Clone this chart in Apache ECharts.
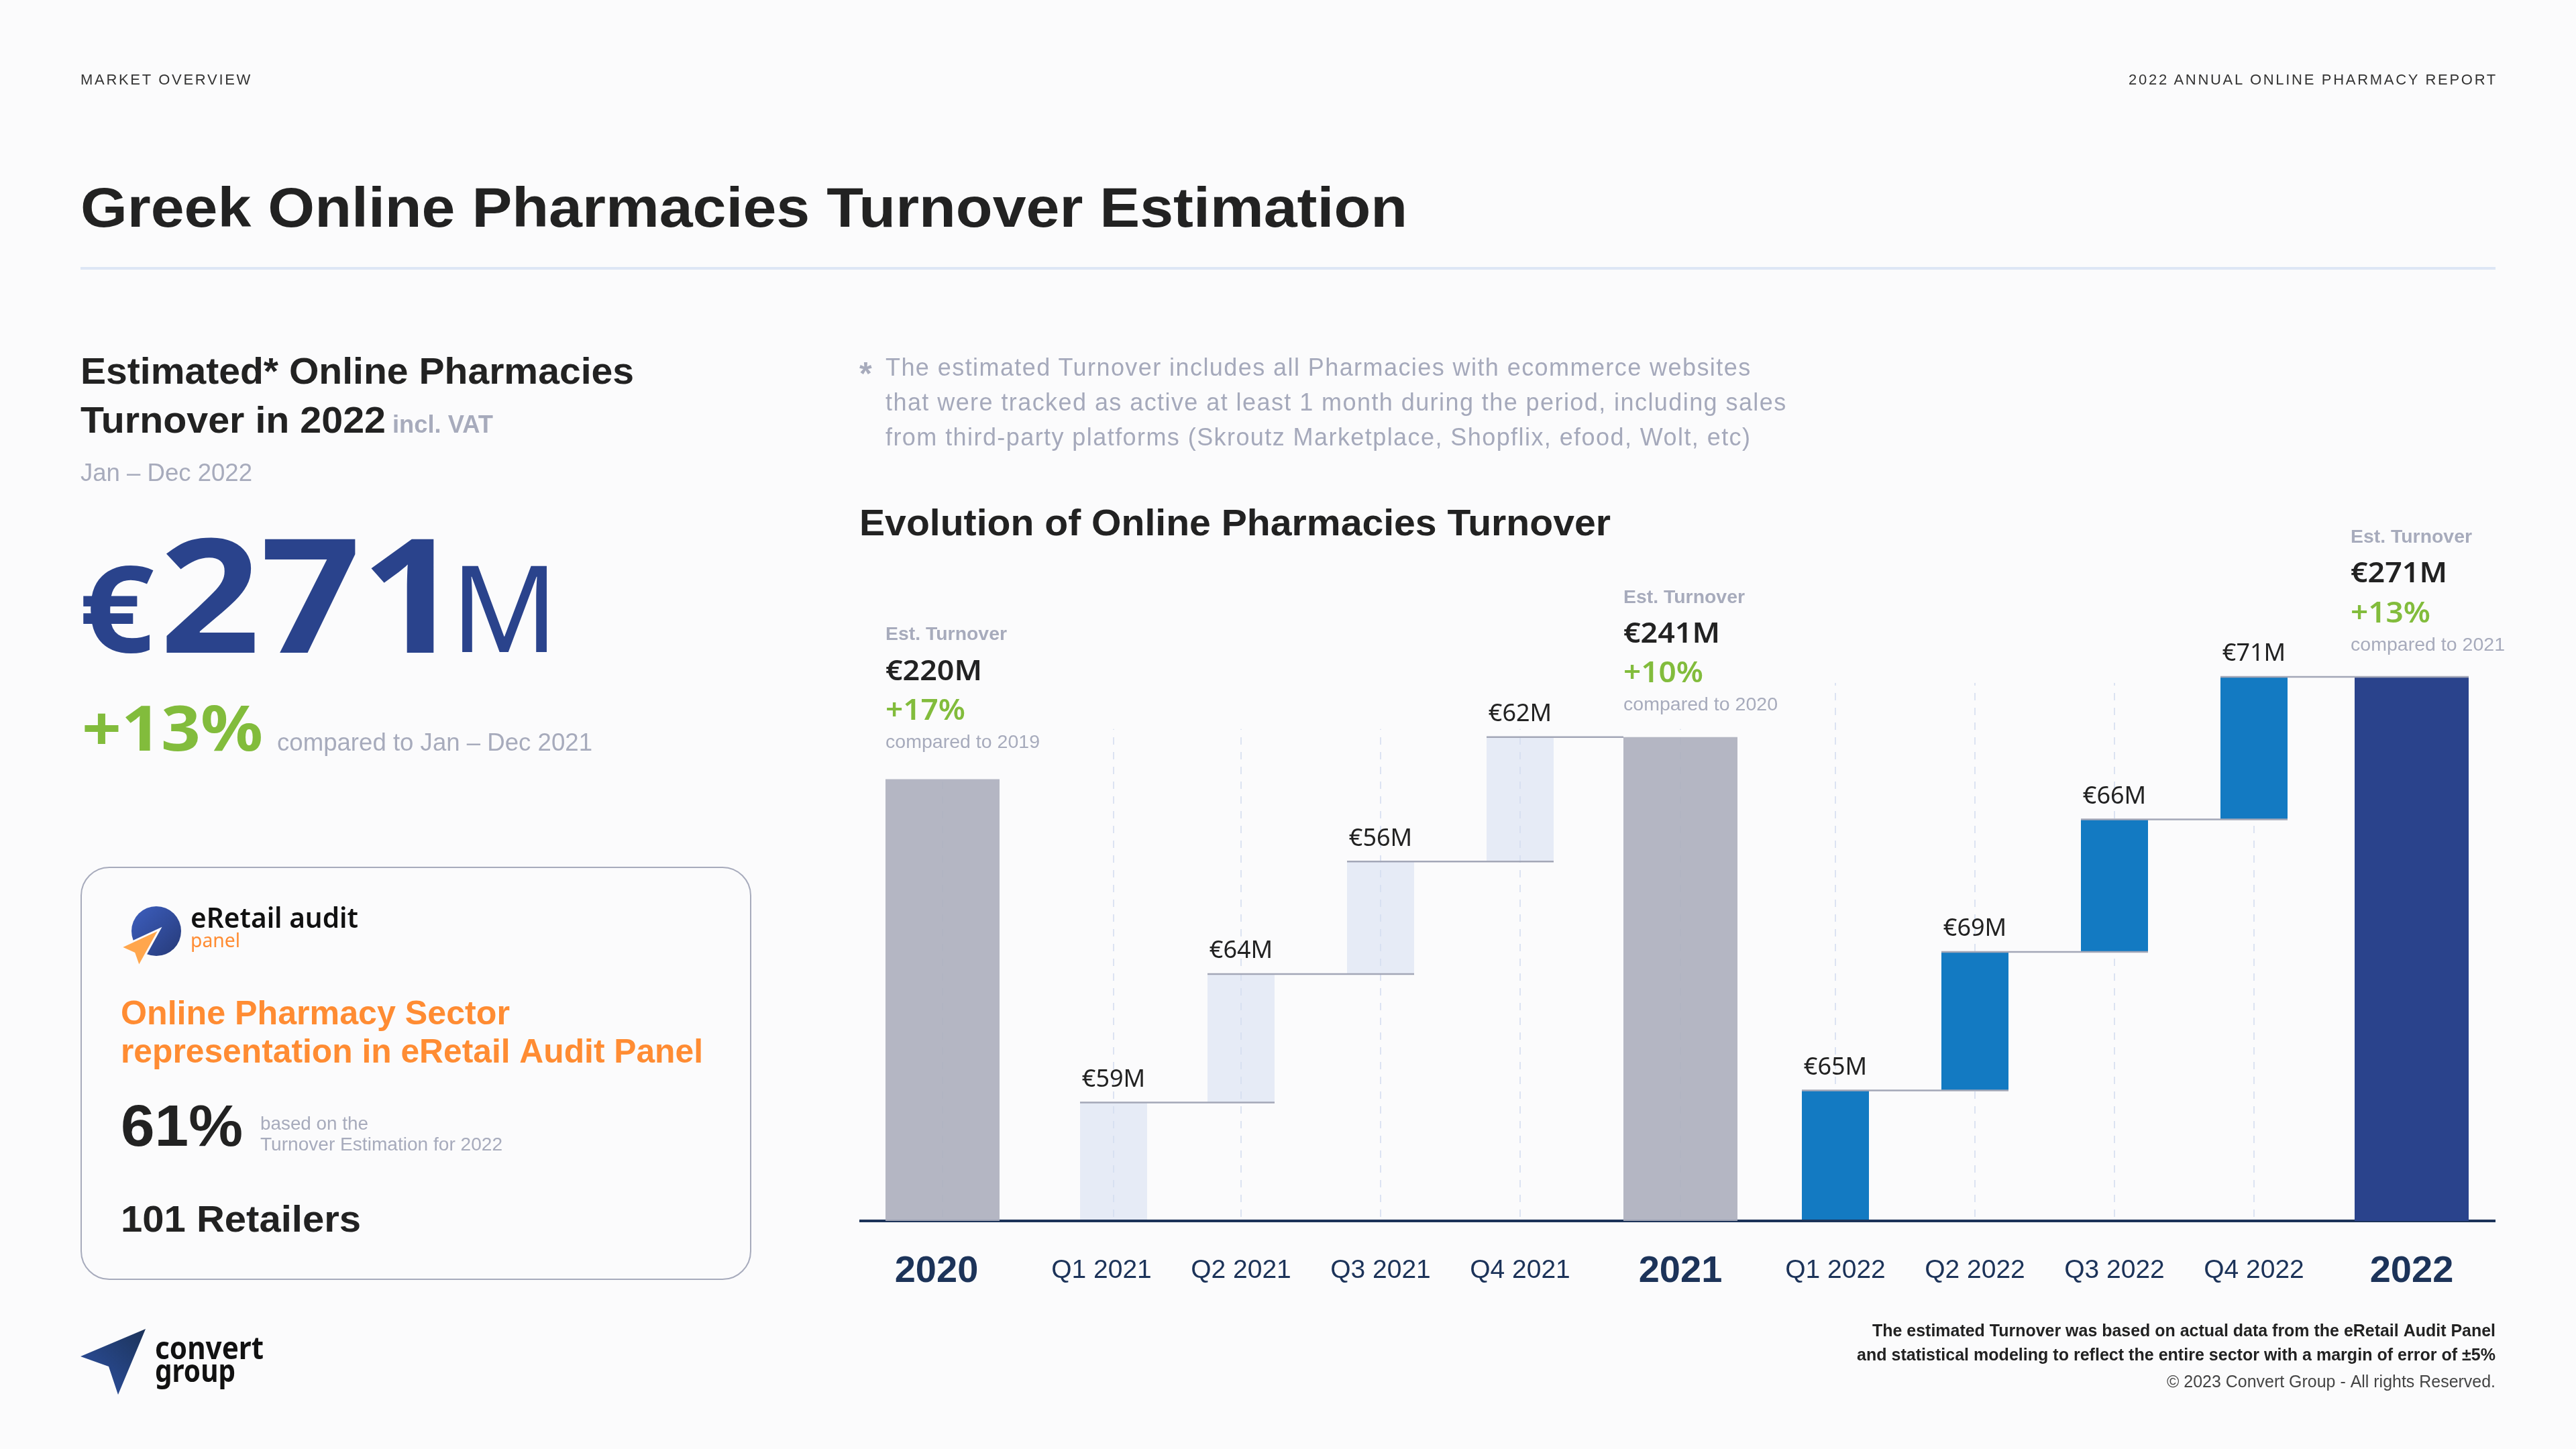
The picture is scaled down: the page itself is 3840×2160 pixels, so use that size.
<!DOCTYPE html>
<html>
<head>
<meta charset="utf-8">
<title>Greek Online Pharmacies Turnover Estimation</title>
<script src="https://cdn.jsdelivr.net/npm/echarts@6/dist/echarts.min.js"></script>
<style>
  html, body { margin: 0; background: #fbfbfc; }
  #main { position: absolute; left: 0; top: 0; width: 3840px; height: 2160px; }
  .tracked { position: absolute; font-family: "Liberation Sans"; white-space: nowrap; }
  #head-left, #head-right { top: 106px; font-size: 22px; line-height: 26px; letter-spacing: 2.7px; color: #333; }
  #head-left { left: 120px; }
  #head-right { right: 117px; }
  .note { left: 1320px; font-size: 36px; line-height: 42px; letter-spacing: 1.43px; color: #a5a9bb; }
</style>
</head>
<body>
<div id="main"></div>
<div class="tracked" id="head-left">MARKET OVERVIEW</div>
<div class="tracked" id="head-right">2022 ANNUAL ONLINE PHARMACY REPORT</div>
<div class="tracked note" style="top:527px">The estimated Turnover includes all Pharmacies with ecommerce websites</div>
<div class="tracked note" style="top:579px">that were tracked as active at least 1 month during the period, including sales</div>
<div class="tracked note" style="top:631px">from third-party platforms (Skroutz Marketplace, Shopflix, efood, Wolt, etc)</div>
<script>
// values
const yearLabels = ['2020', '2021', '2022'];
const yearValues = [220, 241, 271];
const yearGrowth = ['+17%', '+10%', '+13%'];
const yearCompared = ['compared to 2019', 'compared to 2020', 'compared to 2021'];
const q21Labels = ['Q1 2021', 'Q2 2021', 'Q3 2021', 'Q4 2021'];
const q21Values = [59, 64, 56, 62];
const q22Labels = ['Q1 2022', 'Q2 2022', 'Q3 2022', 'Q4 2022'];
const q22Values = [65, 69, 66, 71];

const LS = '"Liberation Sans"';
const NS = '"Noto Sans"';
const DARK = '#222222';
const GREY = '#a7abbc';
const GREEN = '#82bc3c';
const ORANGE = '#ff8c33';
const NAVY = '#2a438c';
const AXIS = '#1c3359';

const chart = echarts.init(document.getElementById('main'));

// running total under each quarter, the waterfall's invisible part
function running(vals) {
    let sum = 0;
    return vals.map(function (v) { const b = sum; sum += v; return b; });
}
const q21Base = running(q21Values);
const q22Base = running(q22Values);

// the slide spaces its bars unevenly, so every run of bars gets its own grid
const groups = [
    { left: 1281, right: 1529, cats: yearLabels.slice(0, 1), vals: yearValues.slice(0, 1), base: [0], kind: 'year', color: 'rgba(172,174,188,0.9)', dashTop: 220, labelPad: 18 },
    { left: 1529, right: 1791, cats: q21Labels.slice(0, 1), vals: q21Values.slice(0, 1), base: q21Base.slice(0, 1), kind: 'q', color: 'rgba(214,222,240,0.55)', dashTop: 245, labelPad: 36 },
    { left: 1746, right: 2370, cats: q21Labels.slice(1), vals: q21Values.slice(1), base: q21Base.slice(1), kind: 'q', color: 'rgba(214,222,240,0.55)', dashTop: 245, labelPad: 0 },
    { left: 2370, right: 2640, cats: yearLabels.slice(1, 2), vals: yearValues.slice(1, 2), base: [0], kind: 'year', color: 'rgba(172,174,188,0.9)', dashTop: 245, labelPad: 0 },
    { left: 2632, right: 3464, cats: q22Labels, vals: q22Values, base: q22Base, kind: 'q', color: '#137ac2', dashTop: 268, labelPad: 0 },
    { left: 3470, right: 3720, cats: yearLabels.slice(2), vals: yearValues.slice(2), base: [0], kind: 'year', color: NAVY, dashTop: 0, labelPad: 0 }
];

const grids = [], xAxes = [], yAxes = [], series = [];
groups.forEach(function (g, i) {
    const isYear = g.kind === 'year';
    const barZ = isYear ? 3 : 2;
    grids.push({ left: g.left, width: g.right - g.left, top: 1000, height: 820 });
    xAxes.push({
        type: 'category', gridIndex: i, data: g.cats,
        axisLine: { show: false },
        axisTick: { show: false },
        axisLabel: {
            interval: 0, color: AXIS, fontFamily: LS,
            fontSize: isYear ? 56 : 39, fontWeight: isYear ? 'bold' : 'normal',
            margin: isYear ? 48 : 55, padding: [0, g.labelPad, 0, 0]
        }
    });
    yAxes.push({ type: 'value', gridIndex: i, min: 0, max: 274, show: false });
    series.push({
        type: 'bar', xAxisIndex: i, yAxisIndex: i, stack: 's' + i, z: barZ, silent: true,
        barWidth: isYear ? 170 : 100, itemStyle: { color: 'transparent' }, data: g.base,
        markLine: g.dashTop ? {
            silent: true, symbol: 'none', z: 1, label: { show: false },
            lineStyle: { type: [11, 11], color: '#dce3f2', width: 2 },
            data: g.cats.map(function (c) { return [{ xAxis: c, yAxis: 2 }, { xAxis: c, yAxis: g.dashTop }]; })
        } : undefined
    });
    series.push({
        type: 'bar', xAxisIndex: i, yAxisIndex: i, stack: 's' + i, z: barZ, silent: true,
        barWidth: isYear ? 170 : 100, itemStyle: { color: g.color }, data: g.vals,
        label: {
            show: !isYear, position: 'top', distance: 16, color: DARK, fontFamily: NS, fontSize: 36,
            formatter: function (p) { return '€' + p.value + 'M'; }
        }
    });
});

chart.setOption({
    animation: false,
    backgroundColor: '#fbfbfc',
    grid: grids, xAxis: xAxes, yAxis: yAxes, series: series
});

// text placed by its baseline; w stretches it to the tracked width on the slide
const measure = document.createElement('canvas').getContext('2d');
function txt(str, x, y, size, color, o) {
    o = o || {};
    const family = o.family || LS;
    const font = (o.weight || 'normal') + ' ' + size + 'px ' + family;
    measure.font = font;
    const mid = (family === NS ? 0.268 : 0.26) * size;
    return {
        type: 'text', x: x, y: y - mid, z: 20, silent: true,
        scaleX: o.w ? o.w / measure.measureText(str).width : 1,
        style: { x: 0, y: 0, text: str, font: font, fill: color, textAlign: o.align || 'left', textVerticalAlign: 'middle' }
    };
}

const els = [
    { type: 'rect', z: 1, silent: true, shape: { x: 120, y: 398, width: 3600, height: 4 }, style: { fill: '#dde6f5' } },
    txt('Greek Online Pharmacies Turnover Estimation', 120, 337, 84, DARK, { weight: 'bold', w: 1978 }),

    // left column
    txt('Estimated* Online Pharmacies', 120, 571, 56, DARK, { weight: 'bold', w: 825 }),
    txt('Turnover in 2022', 120, 644, 56, DARK, { weight: 'bold', w: 455 }),
    txt('incl. VAT', 585, 644, 36, GREY, { weight: 'bold', w: 150 }),
    txt('Jan – Dec 2022', 120, 716, 36, GREY, { w: 256 }),
    txt('€', 118, 969, 180, NAVY, { family: NS, weight: 'bold', w: 112 }),
    txt(String(yearValues[2]), 238, 969, 237, NAVY, { family: NS, weight: 'bold', w: 450 }),
    txt('M', 672, 969, 180, NAVY, { family: NS, w: 160 }),
    txt(yearGrowth[2], 122, 1117, 94, GREEN, { family: NS, weight: 'bold', w: 270 }),
    txt('compared to Jan – Dec 2021', 413, 1118, 36, GREY, { w: 470 }),

    // panel card
    { type: 'rect', z: 1, silent: true, shape: { x: 121, y: 1293, width: 998, height: 614, r: 42 }, style: { fill: 'none', stroke: '#a7abbc', lineWidth: 2 } },
    {
        type: 'circle', z: 2, silent: true, shape: { cx: 233, cy: 1388, r: 37 },
        style: { fill: new echarts.graphic.LinearGradient(0, 0, 1, 1, [{ offset: 0, color: '#3d5fc0' }, { offset: 1, color: '#263a78' }]) }
    },
    { type: 'polygon', z: 3, silent: true, shape: { points: [[238, 1385], [180, 1412], [200, 1421], [207, 1441]] }, style: { fill: '#ffa64d', stroke: '#fbfbfc', lineWidth: 3 } },
    txt('eRetail audit', 284, 1382, 42, '#111111', { family: NS, weight: 600, w: 250 }),
    txt('panel', 284, 1412, 29, ORANGE, { family: NS, w: 74 }),
    txt('Online Pharmacy Sector', 180, 1526, 50, ORANGE, { weight: 'bold', w: 580 }),
    txt('representation in eRetail Audit Panel', 180, 1583, 50, ORANGE, { weight: 'bold', w: 868 }),
    txt('61%', 180, 1707, 88, DARK, { weight: 'bold', w: 182 }),
    txt('based on the', 388, 1684, 28, GREY, { w: 161 }),
    txt('Turnover Estimation for 2022', 388, 1715, 28, GREY, { w: 361 }),
    txt('101 Retailers', 180, 1835, 56, DARK, { weight: 'bold', w: 358 }),

    // company mark
    {
        type: 'polygon', z: 2, silent: true, shape: { points: [[217, 1981], [120, 2022], [162, 2037], [176, 2079]] },
        style: { fill: new echarts.graphic.LinearGradient(1, 0, 0, 1, [{ offset: 0, color: '#1c3359' }, { offset: 1, color: '#2e52a6' }]) }
    },
    txt('convert', 231, 2025, 46, '#111111', { family: NS, weight: 'bold', w: 162 }),
    txt('group', 231, 2059, 46, '#111111', { family: NS, weight: 'bold', w: 120 }),

    // chart heading
    txt('*', 1281, 572, 48, GREY, { weight: 'bold' }),
    txt('Evolution of Online Pharmacies Turnover', 1281, 797, 56, DARK, { weight: 'bold', w: 1120 }),

    // footer
    txt('The estimated Turnover was based on actual data from the eRetail Audit Panel', 3720, 1992, 25, DARK, { weight: 'bold', w: 929, align: 'right' }),
    txt('and statistical modeling to reflect the entire sector with a margin of error of ±5%', 3720, 2028, 25, DARK, { weight: 'bold', w: 952, align: 'right' }),
    txt('© 2023 Convert Group - All rights Reserved.', 3720, 2068, 25, '#444444', { w: 490, align: 'right' })
];

// callouts over the three yearly bars
const calloutX = [1320, 2420, 3504];
const calloutY = [[954, 1013, 1072, 1115], [899, 957, 1016, 1059], [809, 867, 927, 970]];
yearLabels.forEach(function (y, i) {
    const x = calloutX[i], b = calloutY[i];
    els.push(txt('Est. Turnover', x, b[0], 27, GREY, { weight: 'bold', w: 181 }));
    els.push(txt('€' + yearValues[i] + 'M', x, b[1], 42, DARK, { family: NS, weight: 600, w: 144 }));
    els.push(txt(yearGrowth[i], x, b[2], 44, GREEN, { family: NS, weight: 600, w: 119 }));
    els.push(txt(yearCompared[i], x, b[3], 28, GREY, { w: 230 }));
});

// baseline, placed through the value axis
const zeroY = chart.convertToPixel({ yAxisIndex: 0 }, 0);
els.push({ type: 'rect', z: 2.5, silent: true, shape: { x: 1281, y: zeroY - 2, width: 2439, height: 4 }, style: { fill: AXIS } });

// connectors between the steps, placed through the axes
function edge(axisIndex, cat, side, half) {
    return chart.convertToPixel({ xAxisIndex: axisIndex }, cat) + side * half;
}
function connect(x1, x2, axisIndex, value) {
    const y = chart.convertToPixel({ yAxisIndex: axisIndex }, value);
    els.push({
        type: 'line', z: 10, silent: true, shape: { x1: x1, y1: y, x2: x2, y2: y },
        style: { stroke: '#a3a7b7', lineWidth: 2.5 }
    });
}
connect(edge(1, q21Labels[0], -1, 50), edge(2, q21Labels[1], 1, 50), 1, q21Values[0]);
connect(edge(2, q21Labels[1], -1, 50), edge(2, q21Labels[2], 1, 50), 2, q21Base[2]);
connect(edge(2, q21Labels[2], -1, 50), edge(2, q21Labels[3], 1, 50), 2, q21Base[3]);
connect(edge(2, q21Labels[3], -1, 50), edge(3, yearLabels[1], -1, 85), 2, yearValues[1]);
connect(edge(4, q22Labels[0], -1, 50), edge(4, q22Labels[1], 1, 50), 4, q22Base[1]);
connect(edge(4, q22Labels[1], -1, 50), edge(4, q22Labels[2], 1, 50), 4, q22Base[2]);
connect(edge(4, q22Labels[2], -1, 50), edge(4, q22Labels[3], 1, 50), 4, q22Base[3]);
connect(edge(4, q22Labels[3], -1, 50), edge(5, yearLabels[2], 1, 85), 4, yearValues[2]);

chart.setOption({ graphic: { elements: els } });
</script>
</body>
</html>
